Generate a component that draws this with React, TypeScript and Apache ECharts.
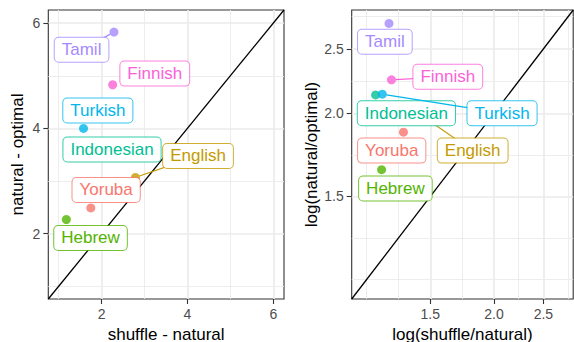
import React, { useEffect, useRef } from "react";
import * as echarts from "echarts";

// ---- data (factor order as in the reference palette) ----
const LANGUAGES = ["Yoruba", "English", "Hebrew", "Indonesian", "Turkish", "Tamil", "Finnish"];
const COLORS = ["#F8766D", "#C49A00", "#53B400", "#00C094", "#00B6EB", "#A58AFF", "#FB61D7"];

// left panel: differences
const SHUFFLE_MINUS_NATURAL = [1.75, 2.79, 1.18, 1.9, 1.58, 2.29, 2.26];
const NATURAL_MINUS_OPTIMAL = [2.49, 3.07, 2.27, 3.65, 4.0, 5.83, 4.83];

// right panel: ratios (drawn on logarithmic axes)
const SHUFFLE_OVER_NATURAL = [1.329, 1.45, 1.204, 1.172, 1.208, 1.245, 1.259];
const NATURAL_OVER_OPTIMAL = [1.874, 1.98, 1.646, 2.132, 2.137, 2.73, 2.246];

// axes
const LEFT_LIMITS = [0.76, 6.25];
const LEFT_MAJOR = [2, 4, 6];
const LEFT_MINOR = [1, 3, 5];
const RIGHT_LIMITS = [1.052, 2.86];
const RIGHT_MAJOR = [1.5, 2.0, 2.5];
const RIGHT_MINOR = [1.125, 1.299, 1.732, 2.236, 2.795];

// repelled label placement (label centres, in data units)
const LEFT_LABEL_X = [2.107, 4.247, 1.744, 2.244, 1.914, 1.535, 3.24];
const LEFT_LABEL_Y = [2.831, 3.478, 1.92, 3.601, 4.342, 5.494, 5.042];
const LEFT_SEGMENT = [false, true, false, false, false, true, false];
const RIGHT_LABEL_X = [1.2604, 1.8166, 1.2815, 1.3466, 2.074, 1.2219, 1.6235];
const RIGHT_LABEL_Y = [1.758, 1.758, 1.542, 2.001, 2.001, 2.563, 2.27];
const RIGHT_SEGMENT = [false, true, false, false, true, false, true];

const FONT = '"Liberation Sans", Arial, Helvetica, sans-serif';

function hexToRgba(hex: string, a: number) {
  const n = parseInt(hex.slice(1), 16);
  return `rgba(${(n >> 16) & 255},${(n >> 8) & 255},${n & 255},${a})`;
}

function mainAxis(gridIndex: number, min: number, max: number, ticks: number[], fmt: (v: number) => string, name: string, nameGap: number) {
  return {
    type: "value",
    gridIndex,
    min,
    max,
    name,
    nameLocation: "middle",
    nameGap,
    nameTextStyle: { color: "#000", fontSize: 17, fontFamily: FONT },
    axisLine: { show: false, onZero: false },
    axisTick: { show: true, customValues: ticks, length: 5, lineStyle: { color: "#333333", width: 1.1 } },
    axisLabel: { show: true, customValues: ticks, formatter: fmt, color: "#4D4D4D", fontSize: 14, fontFamily: FONT, margin: 8 },
    splitLine: { show: true, lineStyle: { color: "#EBEBEB", width: 1.7 } },
  };
}

function minorAxis(gridIndex: number, min: number, max: number, ticks: number[]) {
  return {
    type: "value",
    gridIndex,
    min,
    max,
    axisLine: { show: false, onZero: false },
    axisTick: { show: false, customValues: ticks },
    axisLabel: { show: false, customValues: ticks },
    splitLine: { show: true, lineStyle: { color: "#EBEBEB", width: 0.9 } },
  };
}

function makeRenderItem(segFlags: boolean[]) {
  return (params: any, api: any) => {
    const i = params.dataIndex;
    const p = api.coord([api.value(0), api.value(1)]);
    const l = api.coord([api.value(2), api.value(3)]);
    const color = COLORS[i];
    const children: any[] = [];
    if (segFlags[i]) {
      const dx = l[0] - p[0];
      const dy = l[1] - p[1];
      const d = Math.hypot(dx, dy) || 1;
      const r = 4.2;
      children.push({
        type: "line",
        shape: { x1: p[0] + (dx / d) * r, y1: p[1] + (dy / d) * r, x2: l[0], y2: l[1] },
        style: { stroke: color, lineWidth: 1.2 },
        z2: i * 3,
      });
    }
    children.push({
      type: "text",
      x: l[0],
      y: l[1],
      style: {
        text: LANGUAGES[i],
        fill: color,
        font: `17px ${FONT}`,
        align: "center",
        verticalAlign: "middle",
        backgroundColor: "#ffffff",
        borderColor: hexToRgba(color, 0.8),
        borderWidth: 1,
        borderRadius: 4,
        padding: [4, 7, 3, 7],
      },
      z2: i * 3 + 1,
    });
    return { type: "group", children };
  };
}

export default function App() {
  const ref = useRef<HTMLDivElement>(null);
  useEffect(() => {
    if (!ref.current) return;
    const chart = echarts.init(ref.current, undefined, { renderer: "svg" });
    const ln = Math.log;
    const rMin = ln(RIGHT_LIMITS[0]);
    const rMax = ln(RIGHT_LIMITS[1]);

    const leftPoints = LANGUAGES.map((n, i) => ({
      name: n,
      value: [SHUFFLE_MINUS_NATURAL[i], NATURAL_MINUS_OPTIMAL[i]],
      itemStyle: { color: COLORS[i] },
    }));
    const rightPoints = LANGUAGES.map((n, i) => ({
      name: n,
      value: [ln(SHUFFLE_OVER_NATURAL[i]), ln(NATURAL_OVER_OPTIMAL[i])],
      itemStyle: { color: COLORS[i] },
    }));
    const leftLabels = LANGUAGES.map((n, i) => [
      SHUFFLE_MINUS_NATURAL[i],
      NATURAL_MINUS_OPTIMAL[i],
      LEFT_LABEL_X[i],
      LEFT_LABEL_Y[i],
    ]);
    const rightLabels = LANGUAGES.map((n, i) => [
      ln(SHUFFLE_OVER_NATURAL[i]),
      ln(NATURAL_OVER_OPTIMAL[i]),
      ln(RIGHT_LABEL_X[i]),
      ln(RIGHT_LABEL_Y[i]),
    ]);

    const intFmt = (v: number) => String(Math.round(v));
    const expFmt = (v: number) => Math.exp(v).toFixed(1);

    chart.setOption({
      animation: false,
      backgroundColor: "#ffffff",
      grid: [
        { left: 48.3, top: 10, right: 290, bottom: 43, outerBoundsMode: "none", containLabel: false, show: true, borderColor: "#333333", borderWidth: 1.1, backgroundColor: "transparent" },
        { left: 351.7, top: 10, right: 0.8, bottom: 43, outerBoundsMode: "none", containLabel: false, show: true, borderColor: "#333333", borderWidth: 1.1, backgroundColor: "transparent" },
      ],
      xAxis: [
        mainAxis(0, LEFT_LIMITS[0], LEFT_LIMITS[1], LEFT_MAJOR, intFmt, "shuffle - natural", 23),
        minorAxis(0, LEFT_LIMITS[0], LEFT_LIMITS[1], LEFT_MINOR),
        mainAxis(1, rMin, rMax, RIGHT_MAJOR.map(ln), expFmt, "log(shuffle/natural)", 23),
        minorAxis(1, rMin, rMax, RIGHT_MINOR.map(ln)),
      ],
      yAxis: [
        mainAxis(0, LEFT_LIMITS[0], LEFT_LIMITS[1], LEFT_MAJOR, intFmt, "natural - optimal", 22),
        minorAxis(0, LEFT_LIMITS[0], LEFT_LIMITS[1], LEFT_MINOR),
        mainAxis(1, rMin, rMax, RIGHT_MAJOR.map(ln), expFmt, "log(natural/optimal)", 32),
        minorAxis(1, rMin, rMax, RIGHT_MINOR.map(ln)),
      ],
      series: [
        {
          type: "line",
          xAxisIndex: 0,
          yAxisIndex: 0,
          data: [[LEFT_LIMITS[0], LEFT_LIMITS[0]], [LEFT_LIMITS[1], LEFT_LIMITS[1]]],
          symbol: "none",
          lineStyle: { color: "#000000", width: 1.3 },
          silent: true,
          z: 2,
        },
        {
          type: "scatter",
          xAxisIndex: 0,
          yAxisIndex: 0,
          data: leftPoints,
          symbolSize: 9,
          silent: true,
          z: 3,
        },
        {
          type: "custom",
          xAxisIndex: 0,
          yAxisIndex: 0,
          data: leftLabels,
          renderItem: makeRenderItem(LEFT_SEGMENT),
          silent: true,
          z: 4,
        },
        {
          type: "line",
          xAxisIndex: 2,
          yAxisIndex: 2,
          data: [[rMin, rMin], [rMax, rMax]],
          symbol: "none",
          lineStyle: { color: "#000000", width: 1.3 },
          silent: true,
          z: 2,
        },
        {
          type: "scatter",
          xAxisIndex: 2,
          yAxisIndex: 2,
          data: rightPoints,
          symbolSize: 9,
          silent: true,
          z: 3,
        },
        {
          type: "custom",
          xAxisIndex: 2,
          yAxisIndex: 2,
          data: rightLabels,
          renderItem: makeRenderItem(RIGHT_SEGMENT),
          silent: true,
          z: 4,
        },
      ],
    });
    return () => chart.dispose();
  }, []);

  return (
    <div
      ref={ref}
      style={{ position: "absolute", left: 0, top: 0, width: 574, height: 342, background: "#fff" }}
    />
  );
}
